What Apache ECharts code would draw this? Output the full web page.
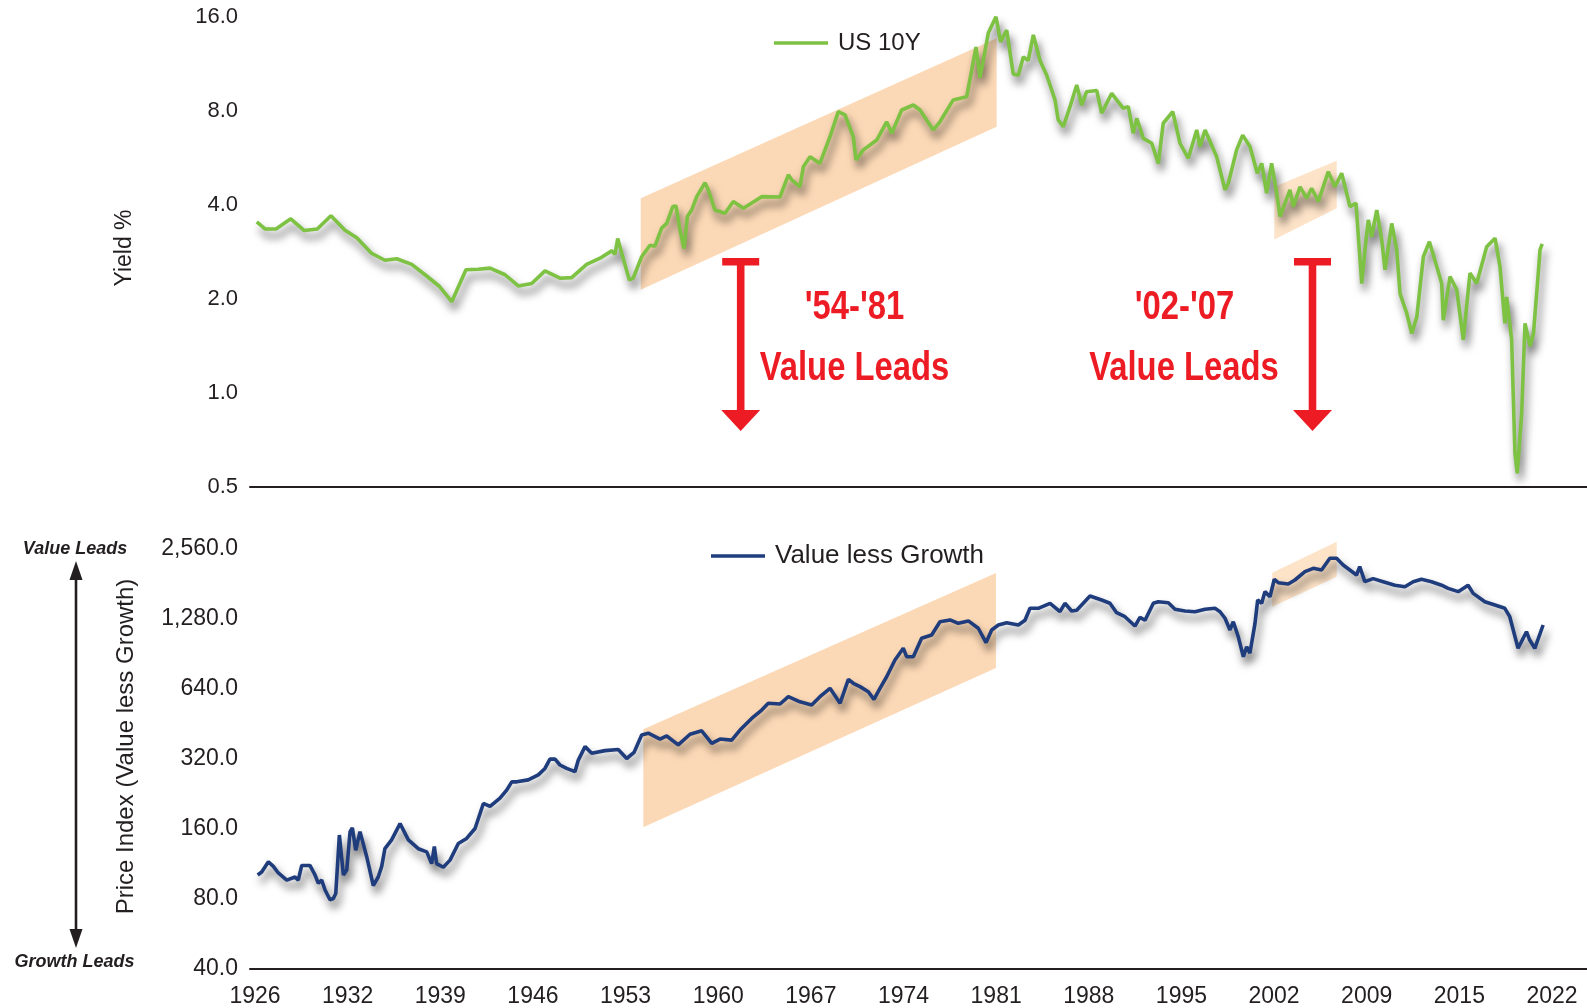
<!DOCTYPE html>
<html lang="en">
<head>
    <meta charset="UTF-8">
    <title>US 10Y yield vs Value less Growth</title>
    <script src="https://cdn.jsdelivr.net/npm/echarts@6/dist/echarts.min.js"></script>
    <style>
        html, body { margin: 0; padding: 0; background: #fff; }
        #chart { width: 1587px; height: 1008px; }
    </style>
</head>
<body>
<div id="chart"></div>
<script>
    // x axis: labels every 83 months starting 1926
    const xTickLabels = ['1926','1932','1939','1946','1953','1960','1967','1974','1981','1988','1995','2002','2009','2015','2022'];
    const xTickStep = 83 / 12;
    const xTickValues = xTickLabels.map((_, i) => 1926 + i * xTickStep);

    const yieldTicks = [0.5, 1, 2, 4, 8, 16];
    const vlgTicks = [40, 80, 160, 320, 640, 1280, 2560];

    // US 10Y yield, % [year, value]
    const yieldSeries = [
        [1926.13,3.53],[1926.75,3.35],[1927.57,3.35],[1928.67,3.61],[1929.68,3.31],[1930.65,3.35],[1931.67,3.69],
        [1932.72,3.32],[1933.6,3.14],[1934.7,2.80],[1935.7,2.66],[1936.58,2.69],[1937.7,2.58],[1938.7,2.39],
        [1939.74,2.20],[1940.69,1.96],[1941.75,2.48],[1942.67,2.49],[1943.55,2.51],[1944.67,2.39],[1945.66,2.20],
        [1946.66,2.24],[1947.65,2.46],[1948.77,2.33],[1949.64,2.34],[1950.76,2.58],[1951.76,2.70],[1952.63,2.85],
        [1952.88,2.78],[1953.08,3.12],[1953.38,2.80],[1953.95,2.30],[1954.24,2.33],[1954.87,2.73],[1955.49,2.97],
        [1955.86,2.95],[1956.36,3.37],[1956.74,3.49],[1957.19,3.95],[1957.43,3.97],[1957.73,3.32],[1958.03,2.90],
        [1958.28,3.67],[1958.6,3.85],[1958.98,4.25],[1959.6,4.71],[1959.84,4.47],[1960.34,3.85],[1961.09,3.76],
        [1961.71,4.10],[1962.46,3.90],[1963.83,4.25],[1965.2,4.24],[1965.82,4.99],[1966.07,4.81],[1966.69,4.57],
        [1966.94,5.30],[1967.44,5.70],[1968.18,5.43],[1968.93,6.61],[1969.55,7.95],[1970.05,7.76],[1970.67,6.61],
        [1970.87,5.57],[1971.42,6.00],[1972.42,6.45],[1973.16,7.38],[1973.54,6.78],[1974.28,8.05],[1975.15,8.35],
        [1975.65,8.05],[1976.64,6.95],[1977.14,7.38],[1978.13,8.67],[1979.13,8.87],[1979.51,10.8],[1979.83,12.8],
        [1980.13,10.2],[1980.75,14.2],[1981.32,16.0],[1981.67,13.3],[1982.12,14.5],[1982.61,10.5],[1982.99,10.4],
        [1983.36,11.9],[1983.73,11.6],[1984.11,14.0],[1984.61,11.6],[1985.11,10.4],[1985.73,8.67],[1985.97,7.48],
        [1986.35,7.12],[1986.85,8.25],[1987.35,9.68],[1987.72,8.35],[1988.09,9.21],[1988.84,9.3],[1989.21,7.86],
        [1989.46,8.25],[1989.96,9.1],[1990.33,8.67],[1990.83,8.15],[1991.2,8.25],[1991.57,6.78],[1991.83,7.57],
        [1992.32,6.53],[1992.95,6.3],[1993.44,5.43],[1993.81,7.3],[1994.52,7.95],[1995.06,6.3],[1995.68,5.64],
        [1996.31,6.95],[1996.55,6.14],[1996.93,6.95],[1997.8,5.70],[1998.42,4.47],[1998.67,4.69],[1999.29,6.0],
        [1999.74,6.69],[2000.29,6.14],[2000.83,5.05],[2001.16,5.43],[2001.53,4.36],[2001.9,5.43],[2002.28,4.36],
        [2002.53,3.67],[2003.27,4.47],[2003.52,3.95],[2004.02,4.57],[2004.52,4.2],[2004.89,4.52],[2005.39,4.10],
        [2006.13,5.11],[2006.63,4.57],[2007.13,5.05],[2007.75,3.95],[2008.2,4.05],[2008.63,2.24],[2008.87,2.87],
        [2009.12,3.58],[2009.37,3.16],[2009.75,3.85],[2010.12,3.09],[2010.37,2.48],[2010.87,3.49],[2011.24,2.87],
        [2011.49,2.08],[2011.99,1.80],[2012.36,1.55],[2012.74,1.75],[2013.23,2.73],[2013.68,3.05],[2014.23,2.54],
        [2014.6,2.24],[2014.72,1.71],[2015.22,2.36],[2015.72,2.14],[2016.21,1.48],[2016.71,2.42],[2017.21,2.24],
        [2017.96,2.94],[2018.58,3.13],[2018.95,2.54],[2019.32,1.67],[2019.45,2.03],[2019.82,1.48],[2020.07,0.64],
        [2020.24,0.553],[2020.57,0.86],[2020.82,1.67],[2021.2,1.41],[2021.45,1.55],[2021.81,2.42],[2021.94,2.87],
        [2022.1,3.0]
    ];

    // Value less Growth price index [year, value]
    const valueLessGrowth = [
        [1926.2,101],[1926.5,104],[1927.0,115],[1927.37,110],[1927.74,103],[1928.37,96],[1928.99,99],[1929.23,96],
        [1929.49,111],[1930.1,111],[1930.48,101],[1930.73,93],[1930.98,96],[1931.23,87],[1931.6,79],[1931.85,80],
        [1932.03,84],[1932.3,150],[1932.6,101],[1932.85,106],[1933.1,155],[1933.27,161],[1933.52,129],[1933.84,155],
        [1934.34,121],[1934.83,91],[1935.2,99],[1935.46,110],[1935.7,131],[1936.2,143],[1936.83,168],[1937.45,143],
        [1938.19,131],[1938.82,127],[1939.19,113],[1939.39,134],[1939.56,113],[1940.06,109],[1940.56,117],[1941.18,138],
        [1941.8,145],[1942.43,160],[1943.05,205],[1943.55,199],[1944.29,216],[1944.79,234],[1945.17,254],[1945.54,254],
        [1946.4,259],[1947.15,272],[1947.65,290],[1948.02,318],[1948.4,318],[1948.77,300],[1949.27,290],[1949.89,281],
        [1950.14,315],[1950.64,360],[1951.14,337],[1952.13,346],[1953.12,350],[1953.75,320],[1954.3,340],[1954.87,404],
        [1955.36,411],[1956.24,388],[1956.74,400],[1957.6,366],[1958.48,407],[1959.35,421],[1960.1,372],[1960.72,388],
        [1961.59,384],[1962.21,424],[1963.08,476],[1963.83,517],[1964.32,553],[1965.2,549],[1965.82,590],[1966.69,561],
        [1967.56,543],[1968.18,590],[1968.93,641],[1969.68,553],[1970.3,701],[1970.67,674],[1971.17,652],[1971.79,620],
        [1972.21,575],[1972.66,641],[1973.16,719],[1973.78,849],[1974.4,953],[1974.65,877],[1975.15,877],[1975.77,1052],
        [1976.52,1087],[1977.14,1240],[1977.89,1262],[1978.51,1220],[1979.26,1250],[1980.0,1162],[1980.58,1008],[1981.0,1143],
        [1981.5,1200],[1982.12,1228],[1982.99,1200],[1983.49,1258],[1983.86,1416],[1984.48,1416],[1985.36,1488],[1986.1,1369],
        [1986.47,1488],[1986.97,1379],[1987.35,1390],[1988.34,1600],[1989.21,1538],[1989.83,1488],[1990.33,1355],[1990.95,1303],
        [1991.7,1188],[1992.07,1295],[1992.45,1258],[1993.07,1488],[1993.44,1512],[1994.19,1495],[1994.69,1402],[1995.43,1379],
        [1996.18,1369],[1996.93,1402],[1997.67,1416],[1998.05,1369],[1998.42,1283],[1998.79,1143],[1999.04,1240],[1999.41,1069],
        [1999.79,877],[2000.04,968],[2000.28,907],[2000.66,1220],[2000.86,1538],[2001.16,1488],[2001.4,1670],[2001.78,1588],
        [2002.1,1887],[2002.4,1824],[2003.14,1800],[2003.64,1874],[2004.39,2035],[2005.01,2104],[2005.63,2070],[2006.25,2323],
        [2006.75,2323],[2007.24,2174],[2007.74,2070],[2008.24,1969],[2008.48,2138],[2008.86,1843],[2009.48,1900],[2010.23,1843],
        [2011.1,1778],[2011.85,1753],[2012.47,1843],[2013.09,1887],[2013.84,1843],[2014.59,1780],[2015.08,1725],[2015.83,1670],
        [2016.57,1780],[2016.95,1642],[2017.82,1512],[2018.57,1463],[2019.31,1416],[2019.68,1303],[2020.3,953],[2020.93,1123],
        [2021.17,1034],[2021.55,953],[2022.17,1200]
    ];

    // shaded trend channels, corners [year, value]
    const yieldBand5481 = [[1954.8,4.2],[1981.37,13.65],[1981.37,7.12],[1954.8,2.14]];
    const yieldBand0207 = [[2002.1,4.57],[2006.76,5.54],[2006.76,3.9],[2002.1,3.1]];
    const vlgBand5481 = [[1954.99,428],[1981.32,2008],[1981.32,784],[1954.99,162]];
    const vlgBand0207 = [[2001.95,2015],[2006.76,2740],[2006.76,1936],[2001.95,1439]];

    const GREEN = '#7DC242';
    const NAVY = '#1F3C7D';
    const BAND = '#FCD9B6';
    const RED = '#ED1C24';
    const INK = '#231F20';
    const FONT = '"Liberation Sans", Arial, Helvetica, sans-serif';

    const lineShadow = { shadowColor: 'rgba(0,0,0,0.6)', shadowBlur: 8, shadowOffsetX: 3, shadowOffsetY: 7 };

    function bandSeries(corners, xi, yi, opacity) {
        return {
            type: 'custom', xAxisIndex: xi, yAxisIndex: yi, silent: true, clip: false,
            data: [corners[0]],
            renderItem: function (params, api) {
                return {
                    type: 'polygon',
                    shape: { points: corners.map(c => api.coord(c)) },
                    style: { fill: BAND, opacity: opacity }
                };
            }
        };
    }

    function xAxisCfg(gridIndex, showLabels) {
        return {
            type: 'value', gridIndex: gridIndex, min: 1925.627, max: 2025.447,
            axisLine: { show: true, lineStyle: { color: INK, width: 2 } },
            axisTick: { show: false }, splitLine: { show: false },
            axisLabel: {
                show: showLabels, customValues: xTickValues, margin: 17,
                fontSize: 23, color: INK, fontFamily: FONT,
                formatter: v => xTickLabels[Math.round((v - 1926) / xTickStep)]
            }
        };
    }

    // label-only axis laid over a log axis: one step per doubling
    function labelAxis(gridIndex, ticks, fmt, size) {
        return {
            type: 'value', gridIndex: gridIndex, position: 'left', min: 0, max: ticks.length - 1, interval: 1,
            axisLine: { show: false }, axisTick: { show: false }, splitLine: { show: false },
            axisLabel: { margin: 12, fontSize: size, color: INK, fontFamily: FONT, formatter: v => fmt(ticks[v]) }
        };
    }

    function redArrow(cx) {
        return [
            { type: 'rect', shape: { x: cx - 18.5, y: 258, width: 37, height: 7.6 }, style: { fill: RED } },
            { type: 'rect', shape: { x: cx - 3.8, y: 265, width: 7.6, height: 146 }, style: { fill: RED } },
            { type: 'polygon', shape: { points: [[cx - 19.5, 410], [cx + 19.5, 410], [cx, 431]] }, style: { fill: RED } }
        ];
    }

    function redText(text, x, y) {
        return {
            type: 'text', x: x, y: y, scaleX: 0.82,
            style: { text: text, fill: RED, fontSize: 40, fontWeight: 'bold', fontFamily: FONT, align: 'center', verticalAlign: 'middle' }
        };
    }

    const chart = echarts.init(document.getElementById('chart'), null, { renderer: 'canvas' });

    chart.setOption({
        animation: false,
        backgroundColor: '#fff',
        grid: [
            { left: 250, right: 0, top: 16.8, height: 470.2, outerBoundsMode: 'none' },
            { left: 250, right: 0, top: 548.5, height: 420, outerBoundsMode: 'none' }
        ],
        xAxis: [xAxisCfg(0, false), xAxisCfg(1, true)],
        yAxis: [
            { type: 'log', logBase: 2, gridIndex: 0, position: 'left', min: 0.5, max: 16, show: false },
            labelAxis(0, yieldTicks, v => v.toFixed(1), 22),
            { type: 'log', logBase: 2, gridIndex: 1, position: 'left', min: 40, max: 2560, show: false },
            labelAxis(1, vlgTicks, v => v.toLocaleString('en-US', { minimumFractionDigits: 1, maximumFractionDigits: 1 }), 23)
        ],
        legend: [
            {
                data: ['US 10Y'], left: 774, top: 31, padding: 0, icon: 'rect', itemWidth: 54, itemHeight: 3.5,
                selectedMode: false, textStyle: { fontSize: 24, color: INK, fontFamily: FONT, padding: [0, 0, 0, 5] }
            },
            {
                data: ['Value less Growth'], left: 711, top: 543, padding: 0, icon: 'rect', itemWidth: 54, itemHeight: 3.5,
                selectedMode: false, textStyle: { fontSize: 26, color: INK, fontFamily: FONT, padding: [0, 0, 0, 5] }
            }
        ],
        series: [
            bandSeries(yieldBand5481, 0, 0, 1),
            {
                name: 'US 10Y', type: 'line', xAxisIndex: 0, yAxisIndex: 0, data: yieldSeries,
                showSymbol: false, color: GREEN,
                lineStyle: Object.assign({ width: 3.6, color: GREEN }, lineShadow)
            },
            bandSeries(yieldBand0207, 0, 0, 0.75),
            bandSeries(vlgBand5481, 1, 2, 1),
            {
                name: 'Value less Growth', type: 'line', xAxisIndex: 1, yAxisIndex: 2, data: valueLessGrowth,
                showSymbol: false, color: NAVY,
                lineStyle: Object.assign({ width: 3.6, color: NAVY }, lineShadow)
            },
            bandSeries(vlgBand0207, 1, 2, 0.75)
        ],
        graphic: [
            { type: 'text', x: 125, y: 248, rotation: Math.PI / 2,
              style: { text: 'Yield %', fontSize: 23, fontFamily: FONT, fill: INK, align: 'center', verticalAlign: 'middle' } },
            { type: 'text', x: 126.5, y: 746.5, rotation: Math.PI / 2,
              style: { text: 'Price Index (Value less Growth)', fontSize: 24, fontFamily: FONT, fill: INK, align: 'center', verticalAlign: 'middle' } },
            { type: 'text', x: 75, y: 549,
              style: { text: 'Value Leads', fontSize: 18, fontWeight: 'bold', fontStyle: 'italic', fontFamily: FONT, fill: INK, align: 'center', verticalAlign: 'middle' } },
            { type: 'text', x: 74.5, y: 962,
              style: { text: 'Growth Leads', fontSize: 18, fontWeight: 'bold', fontStyle: 'italic', fontFamily: FONT, fill: INK, align: 'center', verticalAlign: 'middle' } },
            { type: 'line', shape: { x1: 76, y1: 576, x2: 76, y2: 934 }, style: { stroke: INK, lineWidth: 2.6 } },
            { type: 'polygon', shape: { points: [[76, 561], [69.5, 580], [82.5, 580]] }, style: { fill: INK } },
            { type: 'polygon', shape: { points: [[76, 948], [69.5, 929], [82.5, 929]] }, style: { fill: INK } },
            ...redArrow(740.7),
            ...redArrow(1312.5),
            redText("'54-'81", 854.5, 308),
            redText('Value Leads', 854.5, 369),
            redText("'02-'07", 1184.5, 308),
            redText('Value Leads', 1184, 369)
        ]
    });
</script>
</body>
</html>
